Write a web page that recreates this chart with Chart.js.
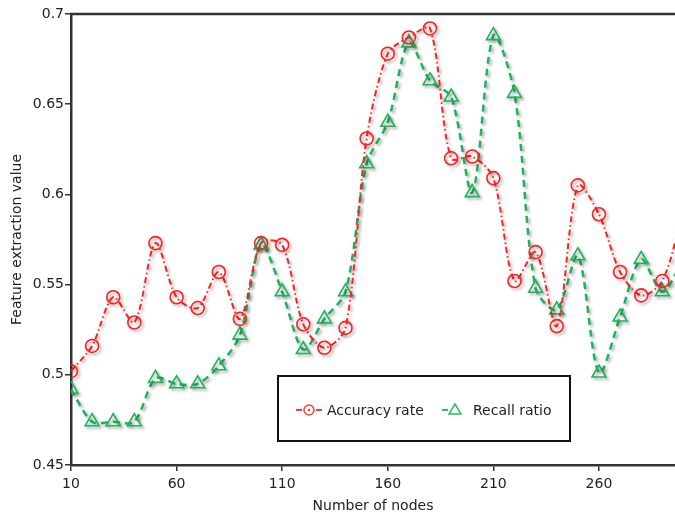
<!DOCTYPE html>
<html>
<head>
<meta charset="utf-8">
<script src="https://cdn.jsdelivr.net/npm/chart.js@4"></script>
<style>
  html, body { margin: 0; padding: 0; background: #fff; overflow: hidden; }
  #wrap { width: 675px; height: 515px; position: relative; }
</style>
</head>
<body>
<div id="wrap"><canvas id="chart"></canvas></div>
<script>
// data
const nodes = [10, 20, 30, 40, 50, 60, 70, 80, 90, 100, 110, 120, 130, 140, 150,
    160, 170, 180, 190, 200, 210, 220, 230, 240, 250, 260, 270, 280, 290, 300];
const accuracyRate = [0.502, 0.516, 0.543, 0.529, 0.573, 0.543, 0.537, 0.557, 0.531, 0.573,
    0.572, 0.528, 0.515, 0.526, 0.631, 0.678, 0.687, 0.692, 0.620, 0.621,
    0.609, 0.552, 0.568, 0.527, 0.605, 0.589, 0.557, 0.544, 0.552, 0.591];
const recallRatio = [0.492, 0.474, 0.474, 0.474, 0.498, 0.495, 0.495, 0.505, 0.522, 0.572,
    0.546, 0.514, 0.531, 0.546, 0.617, 0.640, 0.684, 0.663, 0.654, 0.601,
    0.688, 0.656, 0.548, 0.536, 0.566, 0.501, 0.532, 0.564, 0.546, 0.564];
const xTicks = [10, 60, 110, 160, 210, 260];
const yTicks = [0.45, 0.5, 0.55, 0.6, 0.65, 0.7];

const RED = '#ff1f1f';
const GREEN = '#1db35a';
const FONT = 'DejaVu Sans, Verdana, sans-serif';

// soft grey drop shadow under lines and markers
const shadowPlugin = {
    id: 'shadow',
    beforeDatasetsDraw(chart) {
        const ctx = chart.ctx;
        ctx.save();
        ctx.shadowColor = 'rgba(0,0,0,0.35)';
        ctx.shadowBlur = 3;
        ctx.shadowOffsetX = 2;
        ctx.shadowOffsetY = 2;
    },
    afterDatasetsDraw(chart) {
        chart.ctx.restore();
    }
};

// top frame line + legend box inside the plot
const framePlugin = {
    id: 'frame',
    afterDraw(chart) {
        const ctx = chart.ctx;
        const a = chart.chartArea;
        ctx.save();
        ctx.strokeStyle = '#333';
        ctx.lineWidth = 2.5;
        ctx.beginPath();
        ctx.moveTo(a.left - 1, a.top);
        ctx.lineTo(chart.width, a.top);
        ctx.stroke();

        // legend
        const bx = a.left + 207, by = a.top + 362, bw = 292, bh = 65;
        ctx.fillStyle = '#fff';
        ctx.fillRect(bx, by, bw, bh);
        ctx.strokeStyle = '#111';
        ctx.lineWidth = 2;
        ctx.strokeRect(bx, by, bw, bh);

        const cy = by + 34;
        ctx.font = '14px ' + FONT;
        ctx.textBaseline = 'middle';
        ctx.textAlign = 'left';

        // accuracy sample
        ctx.strokeStyle = '#ff3b3b';
        ctx.lineWidth = 2;
        ctx.beginPath();
        ctx.moveTo(bx + 18, cy); ctx.lineTo(bx + 24, cy);
        ctx.moveTo(bx + 38, cy); ctx.lineTo(bx + 44, cy);
        ctx.stroke();
        ctx.lineWidth = 1.5;
        ctx.beginPath();
        ctx.arc(bx + 31, cy, 5, 0, Math.PI * 2);
        ctx.stroke();
        ctx.fillStyle = '#ff3b3b';
        ctx.beginPath();
        ctx.arc(bx + 31, cy, 1.3, 0, Math.PI * 2);
        ctx.fill();
        ctx.fillStyle = '#222';
        ctx.fillText('Accuracy rate', bx + 49, cy + 1);

        // recall sample
        ctx.strokeStyle = '#2bbf66';
        ctx.lineWidth = 2;
        ctx.beginPath();
        ctx.moveTo(bx + 164, cy); ctx.lineTo(bx + 170, cy);
        ctx.stroke();
        ctx.lineWidth = 1.5;
        ctx.beginPath();
        ctx.moveTo(bx + 177, cy - 6);
        ctx.lineTo(bx + 183, cy + 4);
        ctx.lineTo(bx + 171, cy + 4);
        ctx.closePath();
        ctx.stroke();
        ctx.fillStyle = '#222';
        ctx.fillText('Recall ratio', bx + 195, cy + 1);
        ctx.restore();
    }
};

new Chart(document.getElementById('chart'), {
    type: 'line',
    data: {
        labels: nodes,
        datasets: [{
            label: 'Accuracy rate',
            data: nodes.map((n, i) => ({ x: n, y: accuracyRate[i] })),
            borderColor: RED,
            borderWidth: 2,
            borderDash: [6, 3, 1.5, 3],
            pointStyle: 'circle',
            pointRadius: 6.5,
            pointBorderWidth: 1.6,
            pointBorderColor: RED,
            pointBackgroundColor: 'transparent',
            tension: 0.3,
        }, {
            label: 'Recall ratio',
            data: nodes.map((n, i) => ({ x: n, y: recallRatio[i] })),
            borderColor: GREEN,
            borderWidth: 2.5,
            borderDash: [7, 5],
            pointStyle: 'triangle',
            pointRadius: 8,
            pointBorderWidth: 1.6,
            pointBorderColor: GREEN,
            pointBackgroundColor: 'transparent',
            tension: 0.3,
        }]
    },
    options: {
        responsive: true,
        maintainAspectRatio: false,
        animation: false,
        layout: { autoPadding: false, padding: { top: 14, right: 0, left: 0, bottom: 0 } },
        plugins: {
            legend: { display: false },
            tooltip: { enabled: false },
        },
        scales: {
            x: {
                type: 'linear',
                min: 10,
                max: 296,
                afterBuildTicks: (s) => { s.ticks = xTicks.map(v => ({ value: v })); },
                afterFit: (s) => { s.height = 50; s.paddingLeft = 0; s.paddingRight = 0; },
                grid: { drawOnChartArea: false, drawTicks: true, tickLength: 6, color: '#333', lineWidth: 1.5 },
                border: { color: '#333', width: 2.5 },
                ticks: { color: '#222', font: { family: FONT, size: 14 }, padding: 5, maxRotation: 0 },
                title: { display: true, text: 'Number of nodes', color: '#222', font: { family: FONT, size: 14 }, padding: { top: 0, bottom: 0 } },
            },
            y: {
                min: 0.45,
                max: 0.7,
                afterBuildTicks: (s) => { s.ticks = yTicks.map(v => ({ value: v })); },
                afterFit: (s) => { s.width = 71; s.paddingTop = 0; s.paddingBottom = 0; },
                grid: { drawOnChartArea: false, drawTicks: true, tickLength: 6, color: '#333', lineWidth: 1.5 },
                border: { color: '#333', width: 2.5 },
                ticks: { color: '#222', font: { family: FONT, size: 14 }, padding: 1, callback: (v) => String(+v.toFixed(2)) },
                title: { display: true, text: 'Feature extraction value', color: '#222', font: { family: FONT, size: 14 }, padding: { top: 9, bottom: 0 } },
            }
        }
    },
    plugins: [shadowPlugin, framePlugin]
});
</script>
</body>
</html>
